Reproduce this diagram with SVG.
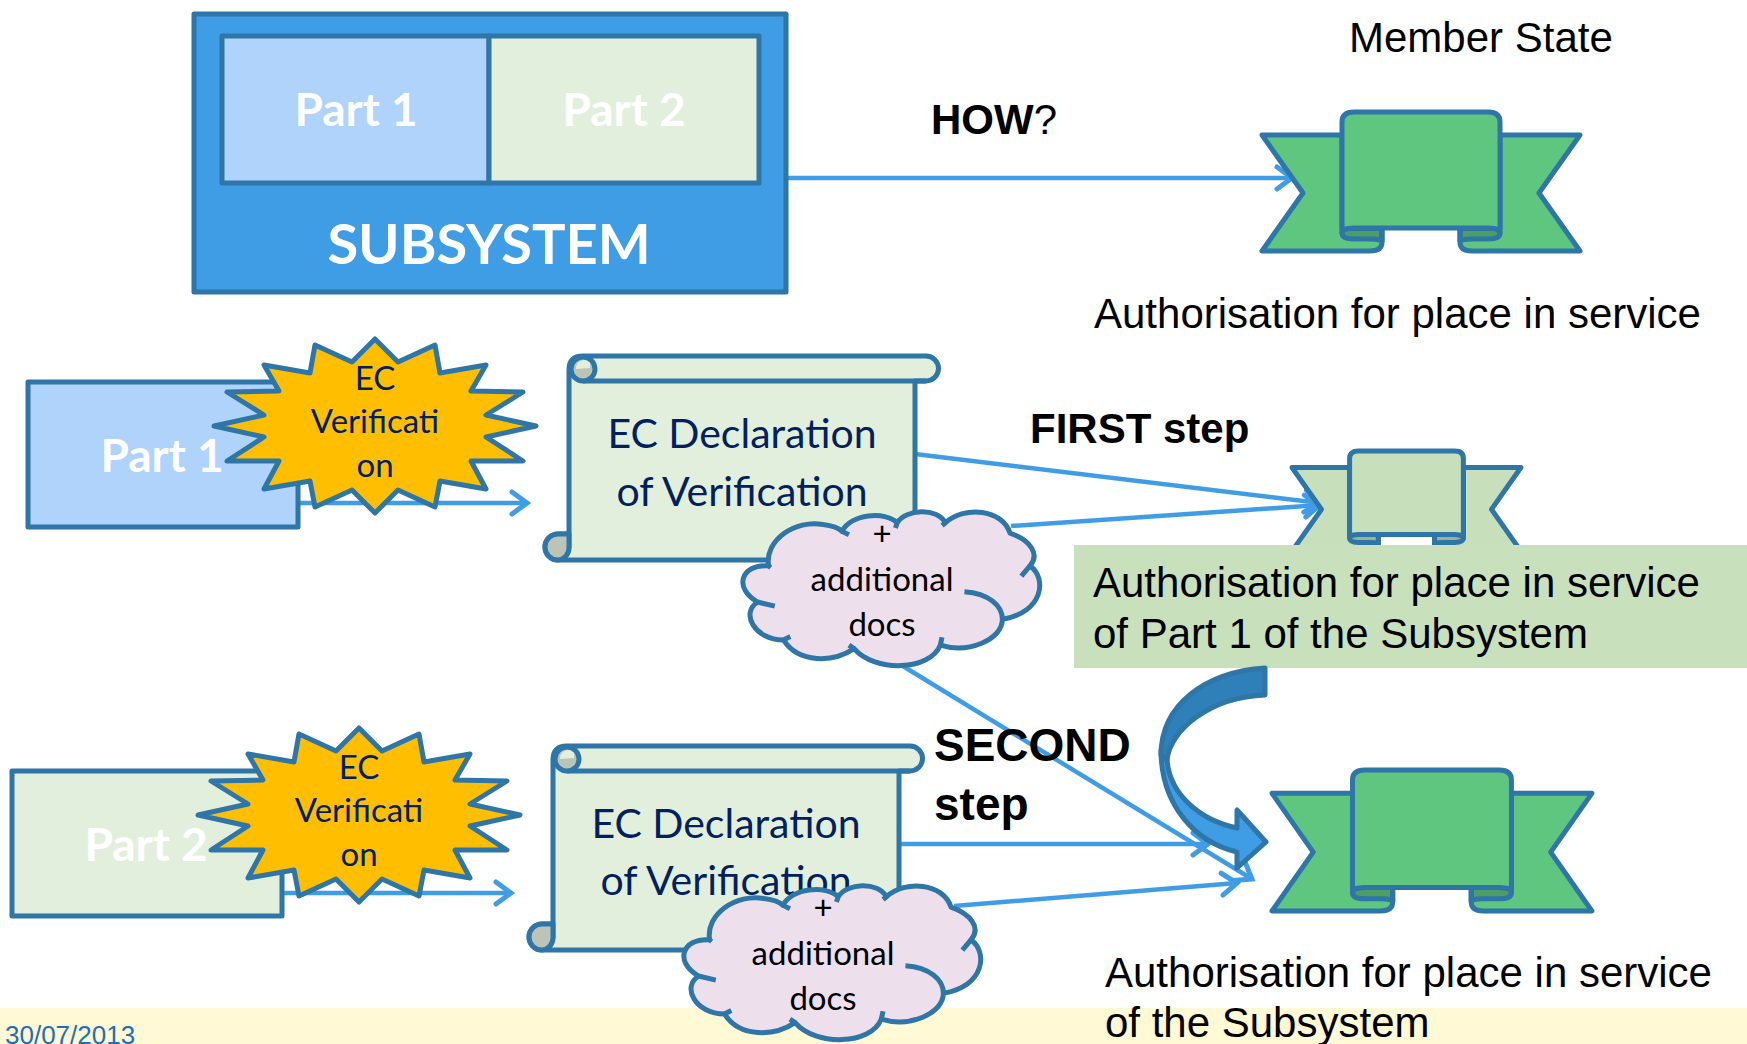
<svg xmlns="http://www.w3.org/2000/svg" width="1747" height="1044" viewBox="0 0 1747 1044">
<style>
.ln{stroke:#2E75A8;stroke-width:5;stroke-linejoin:round;vector-effect:non-scaling-stroke}
.arr{fill:none;stroke:#3F9DE5;stroke-width:4.5;marker-end:url(#ah)}
.cal{font-family:Lato,"Open Sans",sans-serif}
.ari{font-family:"Liberation Sans",Arial,sans-serif;fill:#000}
.big{font-size:42px}
.wh{fill:#fff;font-weight:700;text-anchor:middle}
.nav{fill:#002060;text-anchor:middle}
.blk{fill:#000;text-anchor:middle}
.b{font-weight:700}
.fold{fill:#000;fill-opacity:.2;stroke:#2E75A8;stroke-width:5;vector-effect:non-scaling-stroke}
</style>
<defs>
<marker id="ah" markerUnits="userSpaceOnUse" markerWidth="40" markerHeight="40" refX="0" refY="0" viewBox="-20 -20 40 40" orient="auto" overflow="visible">
<path d="M-15,-11 L0,0 L-15,11" fill="none" stroke="#3F9DE5" stroke-width="5" stroke-linecap="round" stroke-linejoin="miter"/>
</marker>
<g id="ribbon">
<path class="ln" d="M80,23 H0 L41,81 L0,139 H108 Q120,139 120,130 V116 H80Z"/>
<path class="ln" d="M238,23 H318 L277,81 L318,139 H210 Q198,139 198,130 V116 H238Z"/>
<path class="fold" d="M80,121 Q80,116 92,116 H120 V130 Q120,127 108,127 H92 Q80,127 80,121Z"/>
<path class="fold" d="M238,121 Q238,116 226,116 H198 V130 Q198,127 210,127 H226 Q238,127 238,121Z"/>
<path class="ln" d="M80,10 Q80,0 92,0 H226 Q238,0 238,10 V121 Q238,116 226,116 H92 Q80,116 80,121 Z"/>
</g>
<path id="star" class="ln" fill="#FFBF00" d="M0,-87 L23,-64 L60,-81 L65,-53 L111,-61 L96,-35 L148,-34 L111,-11 L161,0 L111,11 L148,35 L96,35 L111,63 L65,55 L60,81 L23,64 L0,87 L-23,64 L-60,81 L-65,55 L-111,63 L-96,35 L-148,35 L-111,11 L-161,0 L-111,-11 L-148,-34 L-96,-35 L-111,-61 L-65,-53 L-60,-81 L-23,-64 Z"/>
<g id="scroll">
<path class="ln" fill="#E3EFDD" d="M569,548 V370 Q569,356 583,356 H926 A12.500,12.500 0 0 1 926,381 H915 V560 H558 A13,13 0 0 1 558,534 H569"/>
<path class="ln" fill="none" d="M583,381 H926"/>
<path class="ln" fill="#BCC4B8" d="M583,381 A12,12 0 0 1 571,369 A12,12 0 0 1 583,357 A12,12 0 0 1 595,369 A12,12 0 0 1 583,381Z"/>
<path fill="#E3EFDD" d="M576,369 A8,8 0 0 1 590,363 L590,368 Z"/>
<path class="ln" fill="#BCC4B8" d="M558,560 A13,13 0 0 1 558,534 H569 V548 A12,12 0 0 1 558,560Z"/>
</g>
<g id="cloud">
<path class="ln" fill="#EEDFEC" d="M692,655 C680,580 770,520 850,535 C875,538 895,545 905,555 C930,505 1030,495 1065,530 C1090,490 1180,485 1205,530 C1260,480 1370,490 1392,560 C1450,580 1480,620 1450,655 C1500,690 1490,790 1370,810 C1370,870 1270,910 1190,885 C1160,960 1000,965 940,895 C880,935 780,940 735,870 C650,870 610,790 660,760 C590,720 610,650 692,655Z"/>
<path class="ln" fill="none" d="M692,655 L698,660 M905,555 L925,565 M1065,530 L1060,545 M1205,530 L1195,538 M1450,655 L1425,685 M1370,810 C1370,770 1330,735 1260,730 M1190,885 L1195,862 M940,895 L925,885 M735,870 L755,860 M660,760 L710,772"/>
</g>
</defs>
<rect width="1747" height="1044" fill="#fff"/>
<rect x="0" y="1008" width="1747" height="36" fill="#FFF9D5"/>
<text id="date" x="5" y="1044" font-family="Liberation Sans,Arial,sans-serif" font-size="26" fill="#1F6FB5">30/07/2013</text>

<g id="connectors">
<line class="arr" x1="786" y1="178" x2="1292" y2="178"/>
<line class="arr" x1="915" y1="454" x2="1320" y2="503"/>
<line class="arr" x1="1011" y1="526" x2="1320" y2="505"/>
<line class="arr" x1="298" y1="503" x2="527" y2="503"/>
<line class="arr" x1="888" y1="657" x2="1252" y2="879"/>
<line class="arr" x1="900" y1="844" x2="1208" y2="844"/>
<line class="arr" x1="954" y1="906" x2="1237" y2="883"/>
<line class="arr" x1="282" y1="893" x2="511" y2="893"/>
</g>

<g id="subsystem">
<rect class="ln" x="194" y="14" width="592" height="278" fill="#3F9DE5"/>
<rect class="ln" x="222" y="36" width="267" height="147" fill="#B0D3FC"/>
<rect class="ln" x="489" y="36" width="270" height="147" fill="#E3EFDD"/>
<text class="cal wh" x="356" y="126" font-size="46">Part 1</text>
<text class="cal wh" x="624" y="126" font-size="46">Part 2</text>
<text class="cal wh" x="489" y="264" font-size="56">SUBSYSTEM</text>
</g>

<text id="member" class="ari big" x="1349" y="52">Member State</text>
<text id="how" class="ari big" x="931" y="134"><tspan class="b">HOW</tspan>?</text>

<use id="ribbon-top" href="#ribbon" x="0" y="0" transform="translate(1262 112)" fill="#5FC680"/>
<text id="auth1" class="ari big" x="1094" y="328">Authorisation for place in service</text>

<g id="part1">
<rect class="ln" x="28" y="382" width="270" height="145" fill="#B0D3FC"/>
<text class="cal wh" x="162" y="472" font-size="46">Part 1</text>
</g>
<g id="verif1">
<use href="#star" transform="translate(375 426)"/>
<text class="cal nav" x="375" y="390" font-size="33">EC</text>
<text class="cal nav" x="375" y="433" font-size="33">Verificati</text>
<text class="cal nav" x="375" y="477" font-size="33">on</text>
</g>
<g id="decl1">
<use href="#scroll"/>
<text class="cal nav" x="742" y="448" font-size="41">EC Declaration</text>
<text class="cal nav" x="742" y="506" font-size="41">of Verification</text>
</g>
<g id="cloud1">
<use href="#cloud" transform="translate(530 340) scale(.3448)"/>
<text class="cal blk" x="882" y="545" font-size="33">+</text>
<text class="cal blk" x="882" y="591" font-size="33">additional</text>
<text class="cal blk" x="882" y="636" font-size="33">docs</text>
</g>

<text id="first" class="ari big b" x="1030" y="443">FIRST step</text>
<use id="ribbon-small" href="#ribbon" transform="translate(1292 451) scale(.72)" fill="#C8DFBC"/>
<g id="auth2">
<rect x="1074" y="545" width="673" height="123" fill="#C9E0BD"/>
<text class="ari big" x="1093" y="597">Authorisation for place in service</text>
<text class="ari big" x="1093" y="648">of Part 1 of the Subsystem</text>
</g>

<g id="part2">
<rect class="ln" x="12" y="771" width="270" height="145" fill="#E3EFDD"/>
<text class="cal wh" x="146" y="861" font-size="46">Part 2</text>
</g>
<g id="verif2">
<use href="#star" transform="translate(359 815)"/>
<text class="cal nav" x="359" y="779" font-size="33">EC</text>
<text class="cal nav" x="359" y="822" font-size="33">Verificati</text>
<text class="cal nav" x="359" y="866" font-size="33">on</text>
</g>
<g id="decl2">
<use href="#scroll" transform="translate(-16 390)"/>
<text class="cal nav" x="726" y="838" font-size="41">EC Declaration</text>
<text class="cal nav" x="726" y="895" font-size="41">of Verification</text>
</g>
<g id="cloud2">
<use href="#cloud" transform="translate(471 714) scale(.3448)"/>
<text class="cal blk" x="823" y="919" font-size="33">+</text>
<text class="cal blk" x="823" y="965" font-size="33">additional</text>
<text class="cal blk" x="823" y="1010" font-size="33">docs</text>
</g>

<text id="second" class="ari b" font-size="46"><tspan x="934" y="761">SECOND</tspan><tspan x="934" y="820">step</tspan></text>

<g id="curved-arrow">
<path class="ln" fill="#3F9DE5" d="M1161,750 C1161,805 1195,842 1237,852 V868 L1266,842 L1237,810 V828 C1200,820 1170,795 1167,760 Z"/>
<path class="ln" fill="#2F7FB9" d="M1265,668 C1205,672 1161,705 1161,755 L1167,760 C1170,730 1210,697 1265,695 Z"/>
</g>
<use id="ribbon-final" href="#ribbon" transform="translate(1272 770) scale(1.006 1.014)" fill="#5FC680"/>
<text id="auth3" class="ari big" x="1105" y="987">Authorisation for place in service</text>
<text id="auth3b" class="ari big" x="1105" y="1037">of the Subsystem</text>
</svg>
